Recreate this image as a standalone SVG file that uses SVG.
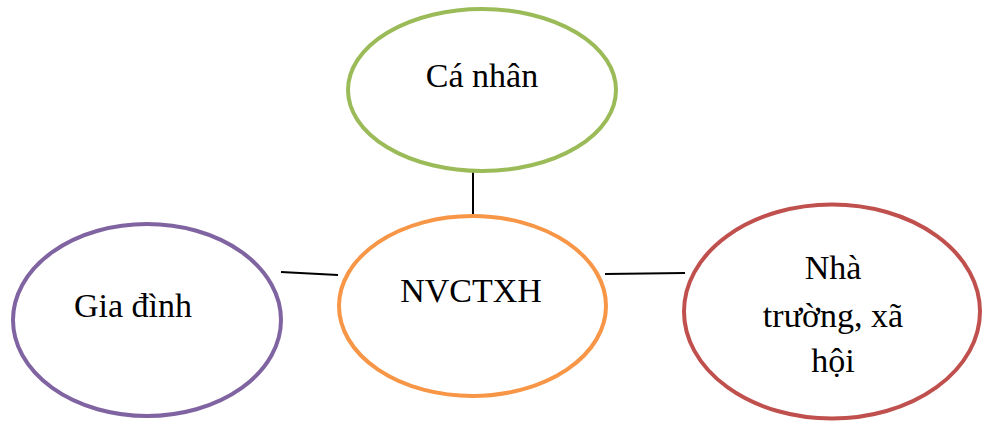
<svg xmlns="http://www.w3.org/2000/svg" width="982" height="423" viewBox="0 0 982 423">
<style>
.n{fill:#fff;stroke-width:4}
.t{font-family:"Liberation Serif","Times New Roman",serif;font-size:34px;fill:#000;text-anchor:middle}
.c{stroke:#000;stroke-width:2;fill:none}
</style>
<rect width="982" height="423" fill="#fff"/>
<g id="connectors">
<line class="c" x1="473" y1="172" x2="473" y2="214"/>
<line class="c" x1="281" y1="272" x2="338" y2="275"/>
<line class="c" x1="605" y1="274" x2="685" y2="273"/>
</g>
<g id="canhan">
<ellipse class="n" cx="482" cy="90" rx="134" ry="81" stroke="#9BBB59"/>
<text class="t" x="482" y="87">Cá nhân</text>
</g>
<g id="nvctxh">
<ellipse class="n" cx="472.5" cy="306" rx="133.5" ry="90" stroke="#F79646"/>
<text class="t" x="471" y="302">NVCTXH</text>
</g>
<g id="giadinh">
<ellipse class="n" cx="147" cy="320" rx="134" ry="96" stroke="#8064A2"/>
<text class="t" x="133" y="317">Gia đình</text>
</g>
<g id="nhatruong">
<ellipse class="n" cx="832" cy="311.5" rx="148" ry="107" stroke="#C0504D"/>
<text class="t" x="833" y="279">Nhà</text>
<text class="t" x="833" y="327">trường, xã</text>
<text class="t" x="833" y="372">hội</text>
</g>
</svg>
